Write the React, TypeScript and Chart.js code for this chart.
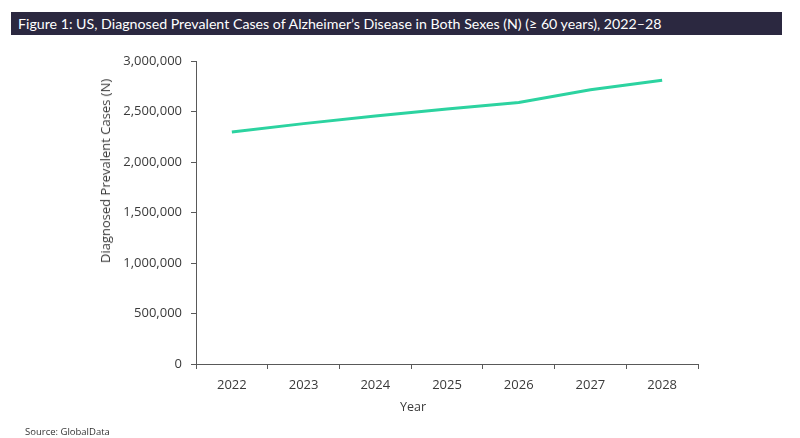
import React, { useEffect, useRef } from "react";
import { Chart, registerables } from "chart.js";

Chart.register(...registerables);

const TITLE = "Figure 1: US, Diagnosed Prevalent Cases of Alzheimer’s Disease in Both Sexes (N) (≥ 60 years), 2022–28";
const Y_TITLE = "Diagnosed Prevalent Cases (N)";
const X_TITLE = "Year";
const SOURCE = "Source: GlobalData";

const years = ["2022", "2023", "2024", "2025", "2026", "2027", "2028"];
const cases = [2297000, 2380000, 2455000, 2525000, 2590000, 2715000, 2810000];
const yMin = 0;
const yMax = 3000000;
const yStep = 500000;

const AXIS = "#595959";
const TEXT = "#3a3a3a";
const LINE = "#2cd3a0";
const FONT = "'Open Sans', sans-serif";

export default function App() {
  const ref = useRef<HTMLCanvasElement | null>(null);

  useEffect(() => {
    document.body.style.margin = "0";
    const canvas = ref.current;
    if (!canvas) return;
    const chart = new Chart(canvas, {
      type: "line",
      data: {
        labels: years,
        datasets: [
          {
            label: "Cases",
            data: cases,
            borderColor: LINE,
            backgroundColor: LINE,
            borderWidth: 3,
            pointRadius: 0,
            tension: 0,
            fill: false,
          },
        ],
      },
      options: {
        responsive: false,
        animation: false,
        devicePixelRatio: 1,
        layout: { padding: { left: 90, right: 102, top: 61, bottom: 34 } },
        plugins: {
          legend: { display: false },
          tooltip: { enabled: false },
          title: { display: false },
        },
        scales: {
          x: {
            type: "category",
            offset: true,
            afterFit: (s: any) => {
              s.height = 40;
            },
            grid: {
              offset: true,
              drawOnChartArea: false,
              drawTicks: true,
              tickLength: 5,
              color: AXIS,
              lineWidth: 1,
            },
            border: { color: AXIS, width: 1 },
            ticks: {
              color: TEXT,
              padding: 8,
              font: { family: FONT, size: 13 },
              maxRotation: 0,
            },
          },
          y: {
            min: yMin,
            max: yMax,
            afterFit: (s: any) => {
              s.width = 106;
            },
            grid: {
              drawOnChartArea: false,
              drawTicks: true,
              tickLength: 5,
              color: AXIS,
              lineWidth: 1,
            },
            border: { color: AXIS, width: 1 },
            ticks: {
              stepSize: yStep,
              color: TEXT,
              padding: 9,
              font: { family: FONT, size: 13 },
              callback: (v: any) => Number(v).toLocaleString("en-US"),
            },
          },
        },
      },
    });
    return () => chart.destroy();
  }, []);

  return (
    <div style={{ position: "fixed", left: 0, top: 0, width: 800, height: 438, background: "#fff", overflow: "hidden" }}>
      <div
        style={{
          position: "absolute",
          left: 11,
          top: 12,
          width: 771,
          height: 23,
          background: "#2b2840",
          color: "#fff",
          fontFamily: "Lato, sans-serif",
          fontSize: 14.2,
          lineHeight: "23px",
          paddingLeft: 7,
          boxSizing: "border-box",
          whiteSpace: "nowrap",
        }}
      >
        {TITLE}
      </div>
      <canvas ref={ref} width={800} height={438} style={{ position: "absolute", left: 0, top: 0, width: 800, height: 438 }} />
      <div
        style={{
          position: "absolute",
          left: 105,
          top: 171,
          transform: "translate(-50%, -50%) rotate(-90deg)",
          whiteSpace: "nowrap",
          fontFamily: FONT,
          fontSize: 13,
          color: TEXT,
        }}
      >
        {Y_TITLE}
      </div>
      <div
        style={{
          position: "absolute",
          left: 413,
          top: 406,
          transform: "translate(-50%, -50%)",
          whiteSpace: "nowrap",
          fontFamily: FONT,
          fontSize: 12.5,
          color: TEXT,
        }}
      >
        {X_TITLE}
      </div>
      <div
        style={{
          position: "absolute",
          left: 25,
          top: 431,
          transform: "translateY(-50%)",
          whiteSpace: "nowrap",
          fontFamily: FONT,
          fontSize: 9.5,
          color: "#333",
        }}
      >
        {SOURCE}
      </div>
    </div>
  );
}
